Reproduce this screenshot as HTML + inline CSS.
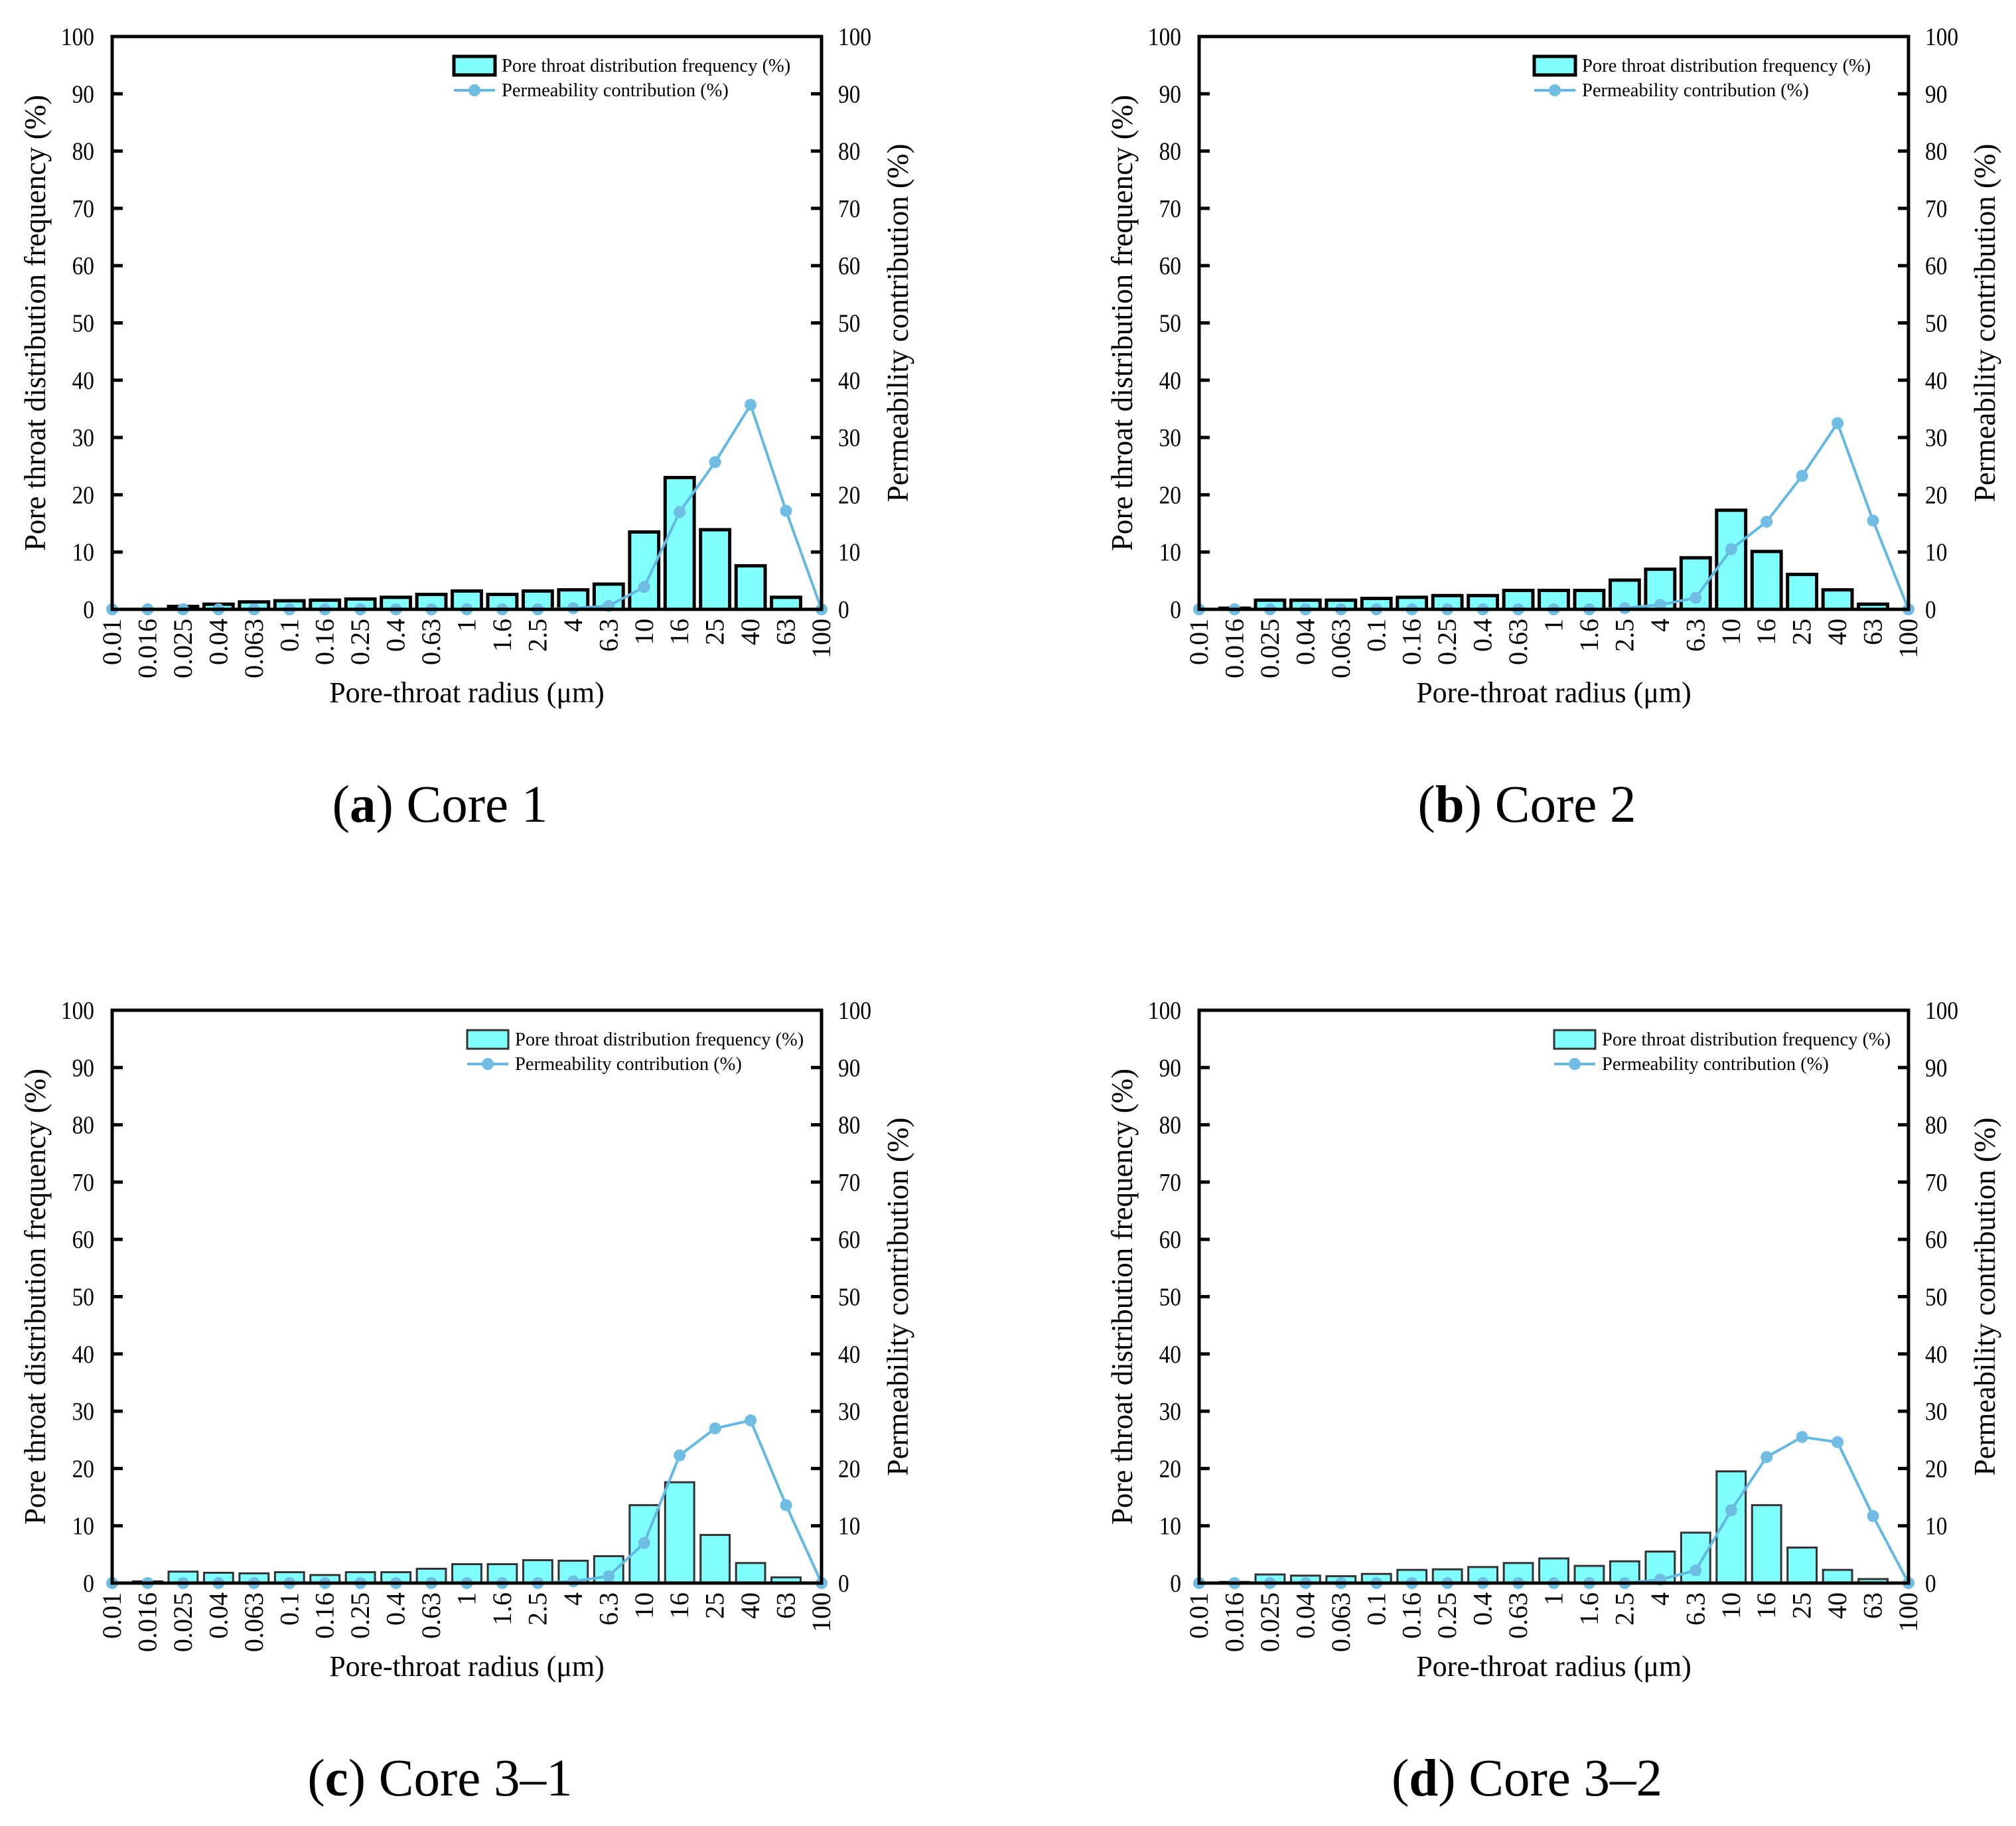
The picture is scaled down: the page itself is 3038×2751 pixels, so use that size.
<!DOCTYPE html>
<html><head><meta charset="utf-8"><style>
html,body{margin:0;padding:0;background:#fff}
svg{display:block;font-family:"Liberation Serif",serif}
</style></head><body>
<svg id="fig" width="3038" height="2751" viewBox="0 0 3038 2751" xmlns="http://www.w3.org/2000/svg"></svg>
<script>
const categories = ["0.01","0.016","0.025","0.04","0.063","0.1","0.16","0.25","0.4","0.63","1","1.6","2.5","4","6.3","10","16","25","40","63","100"];
const yTicks = [0,10,20,30,40,50,60,70,80,90,100];
const freqA = [0,0,0.5,0.9,1.3,1.5,1.6,1.8,2.1,2.6,3.2,2.6,3.2,3.4,4.4,13.5,23,13.9,7.6,2.1,0];
const permA = [0,0,0,0,0,0,0,0,0,0,0,0,0,0.2,0.6,3.9,17,25.7,35.7,17.2,0];
const freqB = [0,0.2,1.6,1.6,1.6,1.9,2.1,2.4,2.4,3.3,3.3,3.3,5.1,7,9,17.3,10.1,6.1,3.4,0.9,0];
const permB = [0,0,0,0,0,0,0,0,0,0,0,0,0.2,0.8,2,10.5,15.3,23.3,32.5,15.5,0];
const freqC = [0,0.3,2,1.8,1.7,1.9,1.4,1.9,1.9,2.5,3.3,3.3,4,3.9,4.7,13.6,17.6,8.4,3.5,1,0];
const permC = [0,0,0,0,0,0,0,0,0,0,0,0,0,0.3,1.2,7,22.3,27,28.4,13.6,0];
const freqD = [0,0.2,1.5,1.3,1.2,1.6,2.3,2.4,2.8,3.5,4.3,3,3.8,5.5,8.8,19.5,13.6,6.2,2.3,0.7,0];
const permD = [0,0,0,0,0,0,0,0,0,0,0,0,0,0.6,2.2,12.7,22,25.5,24.6,11.7,0];
const captionsBold = ["a","b","c","d"];
const captionsText = [" Core 1"," Core 2"," Core 3\u20131"," Core 3\u20132"];

const NS="http://www.w3.org/2000/svg";
const svg=document.getElementById('fig');
function mk(tag,attrs,parent,text){const e=document.createElementNS(NS,tag);for(const k in attrs)e.setAttribute(k,attrs[k]);if(text!==undefined)e.textContent=text;(parent||svg).appendChild(e);return e;}

function panel(ox,oy,freq,perm,idx,legDx,thin){
  const g=mk('g',{});
  
  
  const L=ox+169,R=ox+1238,T=oy+55,B=oy+918;
  const n=categories.length;
  const xs=i=>L+(R-L)*i/(n-1);
  const ys=v=>B-(B-T)*v/100;
  const step=(R-L)/(n-1), bw=step*0.82;
  for(let i=0;i<n;i++){
    if(freq[i]<=0)continue;
    const b=mk('rect',{x:xs(i)-bw/2,y:ys(freq[i]),width:bw,height:B-ys(freq[i]),fill:'#80ffff',stroke:thin?'#333':'#000','stroke-width':thin?3:5},g);
    
    
  }
  let d='';
  for(let i=0;i<n;i++)d+=(i?'L':'M')+xs(i)+' '+ys(perm[i]);
  const ln=mk('path',{d:d,fill:'none',stroke:'#62b8e0','stroke-width':4},g);
  
  
  for(let i=0;i<n;i++){
    const c=mk('circle',{cx:xs(i),cy:ys(perm[i]),r:9,fill:'#6fbde2'},g);
    
    
  }
  const fr=mk('rect',{x:L,y:T,width:R-L,height:B-T,fill:'none',stroke:'#000','stroke-width':5},g);
  
  
  yTicks.forEach(v=>{
    const y=ys(v);
    mk('line',{x1:L,x2:L+16,y1:y,y2:y,stroke:'#000','stroke-width':5},g);
    mk('line',{x1:R-16,x2:R,y1:y,y2:y,stroke:'#000','stroke-width':5},g);
    const tl=mk('text',{x:0,y:0,'font-size':38,'text-anchor':'end',transform:`translate(${L-27},${y+13}) scale(0.88,1)`},g,v);
    
    
    const tr=mk('text',{x:0,y:0,'font-size':38,'text-anchor':'start',transform:`translate(${R+25},${y+13}) scale(0.88,1)`},g,v);
    
    
  });
  categories.forEach((c,i)=>{
    const t=mk('text',{x:0,y:0,'font-size':40,'text-anchor':'end',transform:`translate(${xs(i)+13},${B+14}) rotate(-90)`},g,c);
    
    
  });
  const xt=mk('text',{x:(L+R)/2,y:oy+1058,'font-size':44,'text-anchor':'middle'},g,'Pore-throat radius (\u03bcm)');
  
  
  const yl=mk('text',{x:0,y:0,'font-size':45,'text-anchor':'middle',transform:`translate(${ox+68},${(T+B)/2}) rotate(-90)`},g,'Pore throat distribution frequency (%)');
  
  
  const yr=mk('text',{x:0,y:0,'font-size':45,'text-anchor':'middle',transform:`translate(${ox+1368},${(T+B)/2}) rotate(-90)`},g,'Permeability contribution (%)');
  
  
  const lx=ox+684+legDx;
  const lb=mk('rect',{x:lx,y:oy+85,width:62,height:28,fill:'#80ffff',stroke:thin?'#333':'#000','stroke-width':thin?3:5},g);
  
  
  const t1=mk('text',{x:lx+72,y:oy+108,'font-size':28.5},g,'Pore throat distribution frequency (%)');
  
  
  mk('line',{x1:lx,x2:lx+62,y1:oy+136,y2:oy+136,stroke:'#62b8e0','stroke-width':4},g);
  mk('circle',{cx:lx+31,cy:oy+136,r:9,fill:'#6fbde2'},g);
  const t2=mk('text',{x:lx+72,y:oy+145,'font-size':28.5},g,'Permeability contribution (%)');
  
  
  const cap=mk('text',{x:ox+663,y:oy+1238,'font-size':79,'text-anchor':'middle'},g);
  
  
  mk('tspan',{},cap,'(');
  mk('tspan',{'font-weight':'bold'},cap,captionsBold[idx]);
  mk('tspan',{},cap,')'+captionsText[idx]);
}
panel(0,0,freqA,permA,0,0,false);
panel(1638,0,freqB,permB,1,-10,false);
panel(0,1467,freqC,permC,2,20,true);
panel(1638,1467,freqD,permD,3,20,true);
</script>
</body></html>
